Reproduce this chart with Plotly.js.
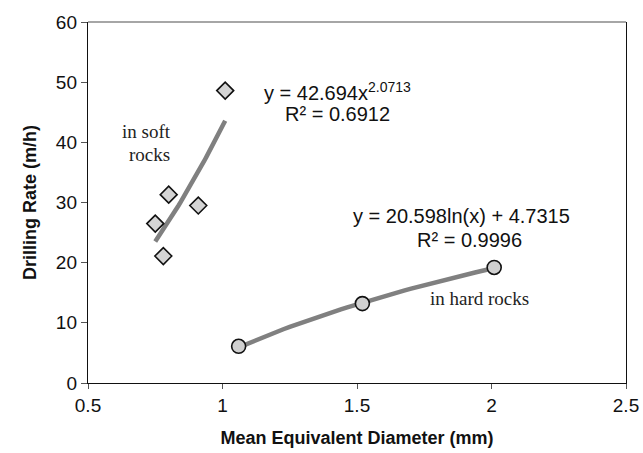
<!DOCTYPE html>
<html>
<head>
<meta charset="utf-8">
<script src="https://cdn.plot.ly/plotly-3.0.1.min.js"></script>
<style>html,body{margin:0;padding:0;background:#fff;}#chart{width:643px;height:453px;}</style>
</head>
<body>
<div id="chart"></div>
<script>
// Data
const softX = [0.75, 0.78, 0.80, 0.91, 1.01];
const softY = [26.5, 21.1, 31.3, 29.5, 48.6];
const hardX = [1.06, 1.52, 2.01];
const hardY = [6.1, 13.2, 19.2];
// Trendline coefficients as printed on the chart
const powerCoef = [42.694, 2.0713];      // y = a * x^b
const logCoef = [20.598, 4.7315];        // y = a*ln(x) + b
const softFitRange = [0.75, 1.01];
const hardFitRange = [1.06, 2.01];
const xTicks = [0.5, 1, 1.5, 2, 2.5];
const yTicks = [0, 10, 20, 30, 40, 50, 60];

function sampleRange(r, n) {
  const out = [];
  for (let i = 0; i <= n; i++) out.push(r[0] + (r[1] - r[0]) * i / n);
  return out;
}
const softFitX = sampleRange(softFitRange, 30);
const softFitY = softFitX.map(x => powerCoef[0] * Math.pow(x, powerCoef[1]));
const hardFitX = sampleRange(hardFitRange, 40);
const hardFitY = hardFitX.map(x => logCoef[0] * Math.log(x) + logCoef[1]);

const traces = [
  {x: softFitX, y: softFitY, mode: 'lines', line: {color: '#808080', width: 4.5}, hoverinfo: 'skip'},
  {x: hardFitX, y: hardFitY, mode: 'lines', line: {color: '#808080', width: 4.5}, hoverinfo: 'skip'},
  {x: softX, y: softY, mode: 'markers', marker: {symbol: 'diamond', size: 13, color: '#d4d4d4', line: {color: '#111', width: 1.6}}},
  {x: hardX, y: hardY, mode: 'markers', marker: {symbol: 'circle', size: 14, color: '#d0d0d0', line: {color: '#111', width: 1.6}}}
];

const eqFont = {family: 'Liberation Sans, Arial, sans-serif', size: 20, color: '#111'};
const serifFont = {family: 'Liberation Serif, Times New Roman, serif', size: 19, color: '#222'};

const layout = {
  width: 643, height: 453,
  margin: {l: 88, r: 17, t: 22, b: 70},
  paper_bgcolor: '#fff', plot_bgcolor: '#fff',
  showlegend: false,
  font: {family: 'Liberation Sans, Arial, sans-serif', color: '#111'},
  xaxis: {
    range: [0.5, 2.5], tickvals: xTicks, ticktext: xTicks.map(String),
    showgrid: false, zeroline: false, showline: true, linecolor: '#111', linewidth: 1.2,
    ticks: 'outside', ticklen: 5, tickcolor: '#555', tickfont: {size: 19, color: '#111'},
    title: {text: '<b>Mean Equivalent Diameter (mm)</b>', font: {size: 18, color: '#111'}, standoff: 16}
  },
  yaxis: {
    range: [0, 60], tickvals: yTicks, ticktext: yTicks.map(String),
    showgrid: false, zeroline: false, showline: true, mirror: true, linecolor: '#111', linewidth: 1.2,
    ticks: 'outside', ticklen: 6, tickcolor: '#555', tickfont: {size: 19, color: '#111'},
    title: {text: '<b>Drilling Rate (m/h)</b>', font: {size: 18, color: '#111'}, standoff: 14}
  },
  shapes: [
    {type: 'line', xref: 'paper', yref: 'paper', x0: 0, x1: 1, y0: 1, y1: 1, line: {color: '#888', width: 1.5}}
  ],
  annotations: [
    {x: 1.145, y: 48.5, xref: 'x', yref: 'y', xanchor: 'left', showarrow: false, font: eqFont,
     text: 'y = 42.694x<sup>2.0713</sup>'},
    {x: 1.225, y: 44.7, xref: 'x', yref: 'y', xanchor: 'left', showarrow: false, font: eqFont,
     text: 'R² = 0.6912'},
    {x: 1.478, y: 27.7, xref: 'x', yref: 'y', xanchor: 'left', showarrow: false, font: eqFont,
     text: 'y = 20.598ln(x) + 4.7315'},
    {x: 1.714, y: 23.7, xref: 'x', yref: 'y', xanchor: 'left', showarrow: false, font: eqFont,
     text: 'R² = 0.9996'},
    {x: 0.816, y: 41.8, xref: 'x', yref: 'y', xanchor: 'right', showarrow: false, font: serifFont,
     text: 'in soft'},
    {x: 0.812, y: 38.0, xref: 'x', yref: 'y', xanchor: 'right', showarrow: false, font: serifFont,
     text: 'rocks'},
    {x: 1.765, y: 14.1, xref: 'x', yref: 'y', xanchor: 'left', showarrow: false, font: serifFont,
     text: 'in hard rocks'}
  ]
};

Plotly.newPlot('chart', traces, layout, {displayModeBar: false, staticPlot: true});
</script>
</body>
</html>
